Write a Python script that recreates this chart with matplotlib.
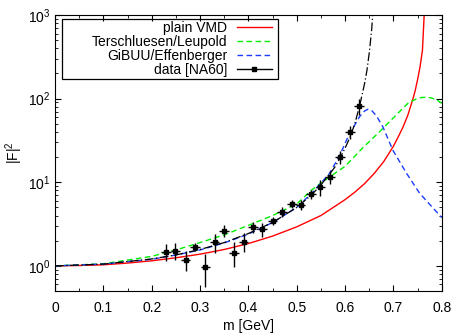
import numpy as np
import matplotlib
matplotlib.use("Agg")
import matplotlib.pyplot as plt
from matplotlib.lines import Line2D
from matplotlib.patches import Rectangle
from matplotlib.ticker import MultipleLocator, LogLocator, NullFormatter

plt.rcParams['font.family'] = ['Liberation Sans', 'DejaVu Sans']
plt.rcParams['mathtext.fontset'] = 'custom'
plt.rcParams['mathtext.rm'] = 'Liberation Sans'

# data [NA60]
m_data = [0.229, 0.249, 0.270, 0.290, 0.311, 0.330, 0.350, 0.370, 0.390, 0.410, 0.429,
          0.450, 0.469, 0.490, 0.508, 0.529, 0.549, 0.569, 0.589, 0.610, 0.629]
f_data = [1.48, 1.52, 1.18, 1.70, 0.98, 1.92, 2.64, 1.44, 1.95, 2.90, 2.74,
          3.48, 4.46, 5.5, 5.4, 7.25, 8.7, 11.5, 20.2, 39.6, 81.6]
f_err = [0.35, 0.35, 0.32, 0.20, 0.42, 0.50, 0.42, 0.47, 0.50, 0.46, 0.50,
         0.40, 0.60, 0.60, 0.80, 0.90, 1.9, 2.0, 3.6, 7.0, 18.0]
m_err = [0.01] * len(m_data)

# plain VMD
m_vmd = [0, 0.05, 0.1, 0.15, 0.2, 0.25, 0.3, 0.35, 0.4, 0.45, 0.5, 0.55, 0.6, 0.62,
         0.64, 0.66, 0.68, 0.7, 0.71, 0.72, 0.73, 0.74, 0.745, 0.75, 0.755, 0.76, 0.765]
f_vmd = [1.0, 1.01, 1.03, 1.08, 1.15, 1.25, 1.38, 1.57, 1.85, 2.27, 2.93, 4.0, 6.2, 7.6,
         9.6, 12.7, 17.7, 27, 35, 46, 64, 98, 125, 170, 240, 380, 1500]

# Terschluesen/Leupold
m_tl = [0, 0.1, 0.2, 0.25, 0.3, 0.35, 0.4, 0.45, 0.5, 0.53, 0.55, 0.57, 0.6, 0.637,
        0.671, 0.706, 0.73, 0.747, 0.758, 0.768, 0.778, 0.789, 0.8]
f_tl = [1.0, 1.06, 1.3, 1.55, 1.9, 2.35, 3.05, 4.0, 5.5, 8.0, 9.8, 11.8, 15.5, 26,
        40, 64, 88, 99, 103, 104, 102, 97, 88]

# GiBUU/Effenberger
m_gb = [0, 0.1, 0.2, 0.25, 0.3, 0.35, 0.4, 0.45, 0.5, 0.534, 0.568, 0.589, 0.603, 0.616,
        0.630, 0.64, 0.647, 0.655, 0.665, 0.678, 0.699, 0.727, 0.754, 0.782, 0.8]
f_gb = [1.0, 1.05, 1.2, 1.35, 1.55, 1.88, 2.4, 3.3, 5.0, 7.7, 12.8, 21, 32, 44,
        61, 71, 74.5, 72, 62, 46, 24, 12.8, 7.4, 4.9, 3.78]

# NA60 fit (dash-dot)
m_fit = [0, 0.1, 0.2, 0.25, 0.3, 0.35, 0.4, 0.45, 0.5, 0.53, 0.55, 0.57, 0.58, 0.59,
         0.6, 0.61, 0.62, 0.63, 0.64, 0.645, 0.65, 0.655, 0.66]
f_fit = [1.0, 1.05, 1.21, 1.35, 1.57, 1.90, 2.44, 3.3, 5.0, 7.0, 9.3, 13.0, 15.5, 19.8,
         25.6, 34.5, 50, 82, 149, 215, 355, 675, 1770]

fig = plt.figure(figsize=(4.55, 3.33), dpi=100)
ax = fig.add_axes([0.121, 0.126, 0.850, 0.829])

l1, = ax.plot(m_vmd, f_vmd, color='#ff0000', lw=1.0)
l2, = ax.plot(m_tl, f_tl, color='#00ee00', lw=1.0, ls=(0, (4, 2.5)))
l3, = ax.plot(m_gb, f_gb, color='#1a3cff', lw=1.0, ls=(0, (4, 2.5)))
ax.plot(m_fit, f_fit, color='black', lw=0.9, ls=(0, (7, 2, 1, 2)))
ax.errorbar(m_data, f_data, yerr=f_err, xerr=m_err, fmt='s', ms=2.5, color='black',
            ecolor='black', elinewidth=1.0, capsize=0)

ax.set_yscale('log')
ax.set_xlim(0, 0.8)
ax.set_ylim(0.5, 1000)
ax.xaxis.set_major_locator(MultipleLocator(0.1))
ax.xaxis.set_minor_locator(MultipleLocator(0.05))
ax.yaxis.set_major_locator(LogLocator(base=10, numticks=10))
ax.yaxis.set_minor_locator(LogLocator(base=10, subs=np.arange(2, 10), numticks=20))
ax.yaxis.set_minor_formatter(NullFormatter())
ax.xaxis.set_major_formatter(plt.FuncFormatter(lambda v, p: '0' if abs(v) < 1e-9 else f'{v:.1f}'))
ax.tick_params(which='both', direction='in', top=True, right=True, labelsize=10)
ax.tick_params(which='major', length=4)
ax.tick_params(which='minor', length=2)
ax.tick_params(axis='x', pad=7)

ax.set_xlabel('m [GeV]', fontsize=10, labelpad=3)
ax.set_ylabel('|F|$^2$', fontsize=10, labelpad=2)

# gnuplot-style key: right-aligned labels, samples on the right, box around it
data_handle = Line2D([], [], color='black', lw=1.0, marker='s', ms=2.5)
leg = ax.legend([l1, l2, l3, data_handle],
                ['plain VMD', 'Terschluesen/Leupold', 'GiBUU/Effenberger', 'data [NA60]'],
                loc='upper right', bbox_to_anchor=(0.560, 0.978), markerfirst=False,
                fontsize=10, frameon=False, handlelength=2.5, borderpad=0,
                borderaxespad=0, labelspacing=0.0, handletextpad=0.7)

fig.canvas.draw()
bb = leg.get_window_extent().transformed(ax.transAxes.inverted())
x0 = 7 / 387
pad_x = 6 / 387
pad_y = 2 / 276
ax.add_patch(Rectangle((x0, bb.y0 - pad_y), bb.x1 + pad_x - x0, bb.height + 2 * pad_y,
                       transform=ax.transAxes, fill=False, edgecolor='black',
                       lw=0.9, zorder=5))

fig.savefig('out.png', dpi=100)
